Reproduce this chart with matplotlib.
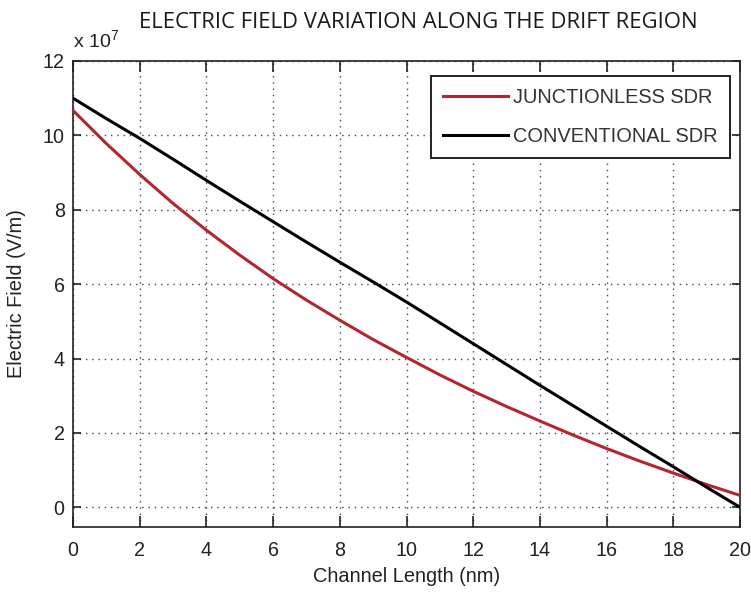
import matplotlib
matplotlib.use("Agg")
import matplotlib.pyplot as plt

# ---- data (values in units of 1e7 V/m) ----
channel_length = [0, 1, 2, 3, 4, 5, 6, 7, 8, 9, 10, 11, 12, 13, 14, 15, 16, 17, 18, 19, 20]
junctionless = [10.67, 9.78, 8.95, 8.17, 7.45, 6.78, 6.15, 5.57, 5.03, 4.51, 4.03,
                3.56, 3.12, 2.71, 2.32, 1.94, 1.58, 1.24, 0.92, 0.61, 0.32]
conventional = [11.00, 10.45, 9.92, 9.36, 8.79, 8.23, 7.68, 7.13, 6.59, 6.06, 5.52,
                4.96, 4.40, 3.84, 3.28, 2.73, 2.18, 1.63, 1.09, 0.54, 0.00]
series_labels = ["JUNCTIONLESS SDR", "CONVENTIONAL SDR"]
x_ticks = [0, 2, 4, 6, 8, 10, 12, 14, 16, 18, 20]
y_ticks = [0, 2, 4, 6, 8, 10, 12]

W, H = 751, 599
fig = plt.figure(figsize=(W / 100, H / 100), dpi=100)
ax = fig.add_axes([73 / W, 1 - 527 / H, (740 - 73) / W, (527 - 61) / H])

txt = "#222222"
font = "Liberation Sans"

ax.plot(channel_length, junctionless, color="#b3262f", lw=2.2, label=series_labels[0], zorder=3)
ax.plot(channel_length, conventional, color="black", lw=2.2, label=series_labels[1], zorder=3)

ax.set_xlim(0, 20)
ax.set_ylim(-0.53, 12)
ax.set_xticks(x_ticks)
ax.set_yticks(y_ticks)
ax.set_xticklabels([str(v) for v in x_ticks], fontname=font, fontsize=14.2, color=txt)
ax.set_yticklabels([str(v) for v in y_ticks], fontname=font, fontsize=14.2, color=txt)

ax.grid(True, color="#444444", linestyle=(0, (1, 3.5)), linewidth=1.0)
ax.tick_params(axis="both", direction="in", top=True, right=True, width=1.2, color="#222222")
ax.tick_params(axis="x", length=8, pad=10)
ax.tick_params(axis="y", length=6, pad=6)
for s in ax.spines.values():
    s.set_linewidth(1.2)
    s.set_color("#222222")

ax.set_xlabel("Channel Length (nm)", fontname=font, fontsize=14.4, color=txt, labelpad=5)
ax.set_ylabel("Electric Field (V/m)", fontname=font, fontsize=14.4, color=txt, labelpad=12)

fig.text(73 / W, 1 - 48 / H, r"x 10$^{\mathregular{7}}$", fontname=font, fontsize=14,
         color=txt, ha="left", va="baseline")

fig.text(418 / W, 1 - 23 / H, "ELECTRIC FIELD VARIATION ALONG THE DRIFT REGION",
         fontname="Open Sans", fontsize=15.9, color="#1a1a1a", ha="center", va="center")

leg = ax.legend(loc="upper right", bbox_to_anchor=(730 / W, 1 - 76 / H),
                bbox_transform=fig.transFigure, borderaxespad=0,
                prop={"family": font, "size": 14.4}, handlelength=3.25,
                handletextpad=0.25, labelspacing=1.0, borderpad=0.6,
                fancybox=False, framealpha=1, edgecolor="#222222")
leg.get_frame().set_linewidth(1.4)
for t in leg.get_texts():
    t.set_color("#333333")

fig.savefig("out.png", dpi=100)
